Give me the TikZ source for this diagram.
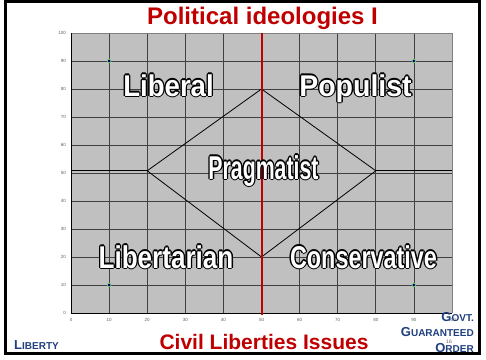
\documentclass[tikz,border=0pt]{standalone}
\usepackage{fontspec}
\setmainfont{Liberation Sans}
\usepackage{graphicx}
\usetikzlibrary{calc}
\definecolor{titlered}{HTML}{C00000}
\definecolor{plotfill}{HTML}{C0C0C0}
\definecolor{gridcol}{HTML}{404040}
\definecolor{bordergray}{HTML}{808080}
\definecolor{navy}{HTML}{1F3F7F}
\definecolor{dotblue}{HTML}{000080}
\definecolor{dotgreen}{HTML}{80D080}
\definecolor{ticklab}{HTML}{606060}
\newcommand\fakesc[2]{{\fontsize{13}{13}\selectfont #1}{\fontsize{10}{10}\selectfont #2}}
\newcommand\quadlab[6]{% name, x, y, sx, sy, text
  \foreach \ang in {0,45,...,315}{
    \node[anchor=base, inner sep=0pt, text=black] at ($(#2,#3)+(\ang:1.3pt)$)
      {\scalebox{#4}[#5]{\fontsize{30}{30}\selectfont\bfseries #6}};
  }
  \node[anchor=base, inner sep=0pt, text=white] (#1) at (#2,#3)
      {\scalebox{#4}[#5]{\fontsize{30}{30}\selectfont\bfseries #6}};
}
\tikzset{
  gridline/.style={draw=gridcol, line width=0.8pt},
  ticky/.style={anchor=east, inner sep=0pt, text=ticklab, font=\fontsize{4.5}{5}\selectfont},
  tickx/.style={anchor=center, inner sep=0pt, text=ticklab, font=\fontsize{4.5}{5}\selectfont},
  redtext/.style={text=titlered, font=\bfseries, inner sep=0pt, anchor=base},
  bluetext/.style={text=navy, font=\bfseries, inner sep=0pt},
}
\begin{document}
\begin{tikzpicture}[x=1pt, y=-1pt]
\useasboundingbox (0,0) rectangle (486,359);
\fill[white] (0,0) rectangle (486,359);
\draw[line width=3pt, black] (5,1.5) rectangle (479.5,353.5);

% title
\node[redtext, font=\fontsize{24}{24}\selectfont\bfseries] (title) at (262.5,24) {Political ideologies I};
\node[redtext, font=\fontsize{21}{21}\selectfont\bfseries] (xaxis) at (264,349) {Civil Liberties Issues};

% plot
\begin{scope}[shift={(71,313)}, x=3.81pt, y=2.8pt]
  \fill[plotfill] (0,0) rectangle (100,100);
  \foreach \v in {10,20,...,90}{
    \draw[gridline] (\v,0) -- (\v,100);
    \draw[gridline] (0,\v) -- (100,\v);
  }
  \draw[bordergray, line width=1pt] (0,100) -- (100,100) -- (100,0);
  \draw[black, line width=1pt] (0,100) -- (0,0) -- (100,0);
  \foreach \v in {0,10,...,100}{
    \node[ticky] (ty\v) at (-1.3,\v) {\v};
    \node[tickx] (tx\v) at (\v,-2.5) {\v};
  }
  % diamond
  \coordinate (dl) at (20,50.8);
  \coordinate (dt) at (50,80);
  \coordinate (dr) at (80,50.8);
  \coordinate (db) at (50,20);
  \coordinate (hl) at (0,50.8);
  \coordinate (hr) at (100,50.8);
  \draw[black, line width=0.8pt] (dl) -- (dt) -- (dr) -- (db) -- cycle;
  \draw[black, line width=0.8pt] (hl) -- (dl);
  \draw[black, line width=0.8pt] (dr) -- (hr);
  % red axis
  \draw[titlered, line width=2pt] (50,-0.8) -- (50,100);
  % points
  \foreach \px/\py in {10/90, 90/90, 10/10, 90/10}{
    \fill[dotgreen] (\px,\py) circle[radius=2.3pt];
    \fill[dotblue] (\px,\py) circle[radius=1.5pt];
  }
\end{scope}

% quadrant labels
\quadlab{liberal}{168.5}{96}{0.92}{1.0}{Liberal}
\quadlab{populist}{355.5}{96}{0.95}{1.0}{Populist}
\quadlab{pragmatist}{263.5}{179}{0.71}{1.1}{Pragmatist}
\quadlab{libertarian}{166}{268}{0.87}{1.05}{Libertarian}
\quadlab{conservative}{363.5}{268}{0.78}{1.05}{Conservative}

% corner labels
\node[bluetext, anchor=base west] (liberty) at (14,349) {\fakesc{L}{IBERTY}};
\node[bluetext, anchor=base east] (govt1) at (474,321) {\fakesc{G}{OVT.}};
\node[bluetext, anchor=base east] (govt2) at (474,336.5) {\fakesc{G}{UARANTEED}};
\node[bluetext, anchor=base east] (govt3) at (474,352) {\fakesc{O}{RDER}};
\node[inner sep=0pt, text=ticklab, font=\fontsize{5}{5}\selectfont] (pagenum) at (449,342) {16};
\end{tikzpicture}
\end{document}
